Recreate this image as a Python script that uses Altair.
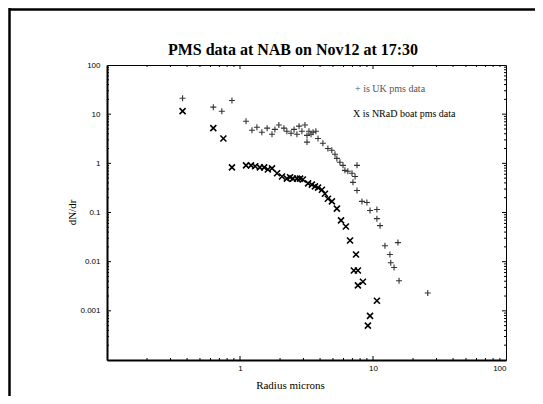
import altair as alt
import pandas as pd

# UK pms data ("+")
uk_r = [0.37, 0.63, 0.73, 0.87, 1.11, 1.23, 1.34, 1.46, 1.60, 1.74, 1.83, 1.96, 2.14, 2.25,
        2.42, 2.55, 2.68, 2.78, 2.92, 3.08, 3.19, 3.30, 3.42, 3.54, 3.72, 3.19, 3.86, 4.20,
        4.58, 4.90, 5.18, 5.35, 5.64, 5.95, 6.15, 6.47, 6.95, 7.58, 7.33, 7.07, 7.58, 8.26,
        9.0, 9.5, 10.7, 10.7, 11.3, 15.4, 12.3, 13.4, 13.6, 14.4, 15.7, 25.8]
uk_n = [21, 13.9, 11.5, 19, 7.2, 4.7, 5.4, 4.3, 5.2, 3.9, 4.9, 6.0, 5.2, 4.5,
        4.1, 4.9, 3.9, 5.7, 4.5, 6.0, 3.7, 4.5, 3.9, 4.3, 4.5, 2.7, 3.2, 2.56,
        2.0, 1.84, 1.53, 1.26, 1.05, 0.91, 0.72, 0.69, 0.63, 0.91, 0.54, 0.41, 0.28, 0.168,
        0.16, 0.11, 0.115, 0.075, 0.054, 0.0244, 0.021, 0.014, 0.0095, 0.0076, 0.0041, 0.0023]

# NRaD boat pms data ("X")
nr_r = [0.37, 0.63, 0.75, 0.87, 1.11, 1.21, 1.30, 1.41, 1.52, 1.62, 1.74, 1.90, 2.07, 2.25,
        2.38, 2.50, 2.68, 2.83, 2.97, 3.25, 3.47, 3.66, 3.86, 4.13, 4.35, 4.58, 4.91, 5.35,
        5.75, 6.25, 6.72, 7.45, 7.18, 7.70, 8.40, 7.70, 10.7, 9.5, 9.15]
nr_n = [11.5, 5.2, 3.2, 0.83, 0.91, 0.91, 0.87, 0.83, 0.83, 0.75, 0.79, 0.63, 0.54, 0.49,
        0.52, 0.49, 0.49, 0.49, 0.47, 0.39, 0.37, 0.34, 0.32, 0.29, 0.24, 0.19, 0.168, 0.12,
        0.069, 0.052, 0.027, 0.014, 0.0066, 0.0066, 0.0039, 0.0033, 0.0016, 0.00079, 0.00050]

x_labels = [1, 10, 100]
y_labels = [100, 10, 1, 0.1, 0.01, 0.001]
x_major = [1, 10]
x_minor = [0.2, 0.3, 0.4, 0.5, 0.6, 0.7, 0.8, 0.9, 2, 3, 4, 5, 6, 7, 8, 9,
           20, 30, 40, 50, 60, 70, 80, 90]
y_major = [0.001, 0.01, 0.1, 1, 10]
y_minor = [m * d for d in [0.0001, 0.001, 0.01, 0.1, 1, 10] for m in [2, 3, 4, 5, 6, 7, 8, 9]]

TITLE = "PMS data at NAB on Nov12 at 17:30"
LEG_UK = "+ is UK pms data"
LEG_NR = "X is NRaD boat pms data"

W, H = 399, 295
xs = alt.Scale(type="log", domain=[0.1, 100], nice=False)
ys = alt.Scale(type="log", domain=[0.0001, 100], nice=False)

PLUS = "M-1,0L1,0M0,-1L0,1"
CROSS = "M-1,-1L1,1M-1,1L1,-1"

uk = pd.DataFrame({"r": uk_r, "n": uk_n})
nr = pd.DataFrame({"r": nr_r, "n": nr_n})

x_axis = alt.Axis(values=x_labels, format="~g", ticks=False, tickSize=0, grid=False,
                  domainColor="black", domainWidth=2, labelFont="Liberation Sans",
                  labelFontSize=8, labelColor="black", labelPadding=4,
                  title="Radius microns", titleFont="Liberation Serif", titleFontSize=11,
                  titleFontWeight="normal", titleColor="black", titleX=183, titleY=25,
                  titleBaseline="middle")
y_axis = alt.Axis(values=y_labels, format="~g", ticks=False, tickSize=0, grid=False,
                  domainColor="black", domainWidth=2, labelFont="Liberation Sans",
                  labelFontSize=8, labelColor="black", labelPadding=7,
                  title="dN/dr", titleFont="Liberation Serif", titleFontSize=11,
                  titleFontWeight="normal", titleColor="black", titleX=-35, titleY=147,
                  titleBaseline="middle")

X = alt.X("r:Q", scale=xs, axis=x_axis)
Y = alt.Y("n:Q", scale=ys, axis=y_axis)

nr_pts = alt.Chart(nr).mark_point(shape=CROSS, size=36, filled=False, stroke="black",
                                  strokeWidth=1.6, opacity=1).encode(x=X, y=Y)
uk_pts = alt.Chart(uk).mark_point(shape=PLUS, size=36, filled=False, stroke="#333333",
                                  strokeWidth=1.1, opacity=1).encode(x=X, y=Y)

def xticks(vals, length):
    d = pd.DataFrame({"r": vals})
    bot = alt.Chart(d).mark_rule(color="black", strokeWidth=1).encode(
        x=X, y=alt.value(H), y2=alt.value(H - length))
    top = alt.Chart(d).mark_rule(color="black", strokeWidth=1).encode(
        x=X, y=alt.value(0), y2=alt.value(length))
    return [bot, top]

def yticks(vals, length):
    d = pd.DataFrame({"n": vals})
    lft = alt.Chart(d).mark_rule(color="black", strokeWidth=1).encode(
        y=Y, x=alt.value(0), x2=alt.value(length))
    rgt = alt.Chart(d).mark_rule(color="black", strokeWidth=1).encode(
        y=Y, x=alt.value(W), x2=alt.value(W - length))
    return [lft, rgt]

one = pd.DataFrame({"k": [0]})
frame_top = alt.Chart(one).mark_rule(color="black", strokeWidth=2.5).encode(
    x=alt.value(-98), x2=alt.value(428), y=alt.value(-55.5))
frame_left = alt.Chart(one).mark_rule(color="black", strokeWidth=2.5).encode(
    x=alt.value(-97.5), y=alt.value(-57), y2=alt.value(331))

title = alt.Chart(one).mark_text(text=TITLE, font="Liberation Serif", fontSize=16,
                                 fontWeight="bold", color="black", align="center",
                                 baseline="alphabetic").encode(
    x=alt.value(186), y=alt.value(-10))
leg1 = alt.Chart(one).mark_text(text=LEG_UK, font="Liberation Serif",
                                fontSize=10, color="#555555", align="left",
                                baseline="middle").encode(x=alt.value(248), y=alt.value(24))
leg2 = alt.Chart(one).mark_text(text=LEG_NR, font="Liberation Serif",
                                fontSize=10, color="black", align="left",
                                baseline="middle").encode(x=alt.value(246), y=alt.value(49))

layers = [nr_pts, uk_pts] + xticks(x_major, 4) + xticks(x_minor, 2) \
    + yticks(y_major, 4) + yticks(y_minor, 2) + [frame_top, frame_left, title, leg1, leg2]

chart = alt.layer(*layers).properties(
    width=W, height=H,
    autosize=alt.AutoSizeParams(type="none"),
    padding={"left": 99, "top": 57, "right": 29, "bottom": 36},
    background="white",
).configure_view(stroke="black", strokeWidth=1)

chart.save("out.html", embed_options={"renderer": "svg", "actions": False})
